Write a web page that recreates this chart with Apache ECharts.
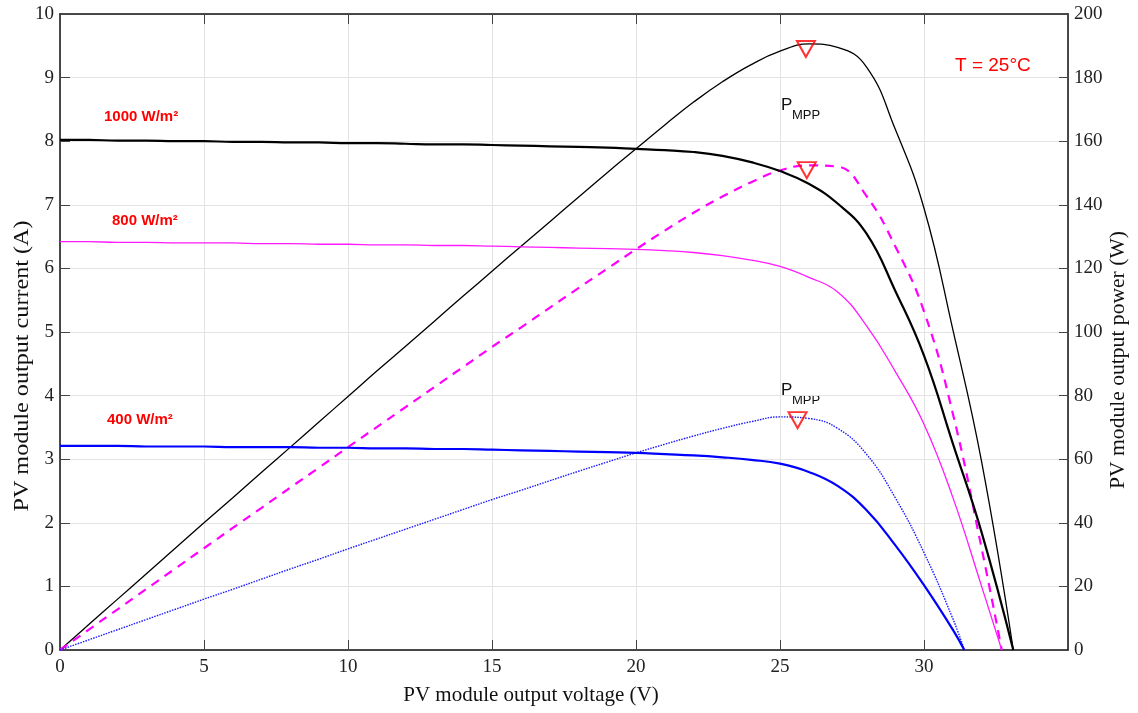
<!DOCTYPE html>
<html>
<head>
<meta charset="utf-8">
<script src="https://cdn.jsdelivr.net/npm/echarts@6/dist/echarts.min.js"></script>
<style>html,body{margin:0;padding:0;background:#fff;}#c{width:1138px;height:713px;}</style>
</head>
<body>
<div id="c"></div>
<script>
// ---- data ----
const xTicks = [0, 5, 10, 15, 20, 25, 30];
const leftTicks = [0,1,2,3,4,5,6,7,8,9,10];
const rightTicks = [0,20,40,60,80,100,120,140,160,180,200];

const v1000 = [0,1,2,3,4,5,6,7,8,9,10,11,12,13,14,15,16,17,18,19,20,21,22,23,24,25,26,27,28,29,30,31,32,33.1];
const i1000 = [8.02,8.02,8.01,8.01,8.00,8.00,7.99,7.99,7.98,7.98,7.97,7.97,7.96,7.95,7.95,7.94,7.93,7.92,7.91,7.90,7.88,7.86,7.83,7.77,7.67,7.53,7.33,7.02,6.55,5.65,4.63,3.25,1.85,0];
const p1000 = [0,8.0,16.0,24.0,32.0,40.0,47.9,55.9,63.8,71.8,79.7,87.7,95.5,103.4,111.3,119.1,126.9,134.6,142.4,150.1,157.6,165.1,172.3,178.7,184.1,188.3,190.6,189.5,183.4,163.8,138.9,100.8,59.2,0];

const v800 = [0,1,2,3,4,5,6,7,8,9,10,11,12,13,14,15,16,17,18,19,20,21,22,23,24,25,26,27,28,29,30,31,32,32.7];
const i800 = [6.42,6.42,6.41,6.41,6.40,6.40,6.40,6.39,6.39,6.38,6.38,6.37,6.37,6.36,6.36,6.35,6.34,6.33,6.32,6.31,6.30,6.28,6.25,6.20,6.13,6.03,5.86,5.63,5.10,4.38,3.55,2.40,1.00,0];
const p800 = [0,6.4,12.8,19.2,25.6,32.0,38.4,44.7,51.1,57.4,63.8,70.1,76.4,82.7,89.0,95.3,101.4,107.6,113.8,119.9,126.0,131.9,137.5,142.6,147.1,150.8,152.4,152.0,142.8,127.0,106.5,74.4,32.0,0];

const v400 = [0,1,2,3,4,5,6,7,8,9,10,11,12,13,14,15,16,17,18,19,20,21,22,23,24,25,26,27,28,29,30,31,31.4];
const i400 = [3.21,3.21,3.21,3.20,3.20,3.20,3.19,3.19,3.19,3.18,3.18,3.17,3.17,3.16,3.16,3.15,3.14,3.13,3.12,3.11,3.10,3.08,3.06,3.03,2.99,2.93,2.80,2.58,2.20,1.65,1.02,0.32,0];
const p400 = [0,3.2,6.4,9.6,12.8,16.0,19.1,22.3,25.5,28.6,31.8,34.9,38.0,41.1,44.2,47.3,50.2,53.2,56.2,59.1,62.0,64.7,67.3,69.7,71.8,73.3,72.8,69.7,61.6,47.9,30.6,9.9,0];

const mppV = [25.9, 25.93, 25.61];
const mppP = [189, 150.9, 72.3];

const irrLabels = ['1000 W/m²', '800 W/m²', '400 W/m²'];
const tempLabel = 'T = 25°C';
const axisNames = ['PV module output voltage (V)', 'PV module output current (A)', 'PV module output power (W)'];

// ---- chart ----
const zip = (a, b) => a.map((x, k) => [x, b[k]]);
const chart = echarts.init(document.getElementById('c'), null, {renderer: 'canvas'});
const serif = 'Liberation Serif';
const gridColor = '#e3e3e3';

function line(data, yIdx, color, width, type) {
  return {
    type: 'line', data: data, yAxisIndex: yIdx, xAxisIndex: 0,
    symbol: 'none', smooth: 0.45,
    lineStyle: {color: color, width: width, type: type || 'solid'},
    z: 3, silent: true
  };
}

chart.setOption({
  animation: false,
  backgroundColor: '#fff',
  grid: {left: 60, right: 70, top: 14, bottom: 63, containLabel: false, outerBoundsMode: 'none'},
  xAxis: [{
    type: 'value', min: 0, max: 35, interval: 5, position: 'bottom',
    axisLine: {show: true, onZero: false, lineStyle: {color: '#111', width: 1.5}},
    axisTick: {show: true, inside: true, length: 10, lineStyle: {color: '#444'}},
    axisLabel: {fontFamily: serif, fontSize: 19, color: '#222', margin: 8,
      formatter: v => xTicks.indexOf(v) >= 0 ? String(v) : ''},
    splitLine: {show: true, lineStyle: {color: gridColor, width: 1}}
  }, {
    type: 'value', min: 0, max: 35, interval: 5, position: 'top',
    axisLine: {show: true, onZero: false, lineStyle: {color: '#111', width: 1.5}},
    axisTick: {show: true, inside: true, length: 10, lineStyle: {color: '#444'}},
    axisLabel: {show: false}, splitLine: {show: false}
  }],
  yAxis: [{
    type: 'value', min: 0, max: 10, interval: 1, position: 'left',
    axisLine: {show: true, onZero: false, lineStyle: {color: '#111', width: 1.5}},
    axisTick: {show: true, inside: true, length: 10, lineStyle: {color: '#444'}},
    axisLabel: {fontFamily: serif, fontSize: 19, color: '#222', margin: 6,
      formatter: v => leftTicks.indexOf(v) >= 0 ? String(v) : ''},
    splitLine: {show: true, lineStyle: {color: gridColor, width: 1}}
  }, {
    type: 'value', min: 0, max: 200, interval: 20, position: 'right',
    axisLine: {show: true, onZero: false, lineStyle: {color: '#111', width: 1.5}},
    axisTick: {show: true, inside: true, length: 9, lineStyle: {color: '#444'}},
    axisLabel: {fontFamily: serif, fontSize: 19, color: '#222', margin: 6,
      formatter: v => rightTicks.indexOf(v) >= 0 ? String(v) : ''},
    splitLine: {show: false}
  }],
  series: [
    line(zip(v1000, p1000), 1, '#000', 1.3),
    line(zip(v800, p800), 1, '#ff00ff', 2.2, [9, 7]),
    line(zip(v400, p400), 1, '#1a1aff', 1.4, [1.5, 1.2]),
    line(zip(v1000, i1000), 0, '#000', 2.2),
    line(zip(v800, i800), 0, '#ff1aff', 1.3),
    line(zip(v400, i400), 0, '#0000ff', 2.2),
    {
      type: 'scatter', yAxisIndex: 1, data: zip(mppV, mppP),
      symbol: 'triangle', symbolRotate: 180, symbolSize: [18, 16],
      itemStyle: {color: 'rgba(0,0,0,0)', borderColor: '#ff0000', borderWidth: 2},
      z: 5, silent: true
    }
  ],
  graphic: [
    {type: 'text', x: 531, y: 695, style: {text: axisNames[0], fill: '#111', font: '21px "Liberation Serif"', align: 'center', verticalAlign: 'middle'}},
    {type: 'text', x: 22, y: 366, rotation: Math.PI / 2, scaleX: 1.15,
      style: {text: axisNames[1], fill: '#111', font: '21px "Liberation Serif"', align: 'center', verticalAlign: 'middle'}},
    {type: 'text', x: 1119, y: 360, rotation: Math.PI / 2, scaleX: 1.08,
      style: {text: axisNames[2], fill: '#111', font: '20px "Liberation Serif"', align: 'center', verticalAlign: 'middle'}},
    {type: 'text', left: 104, top: 109, style: {text: irrLabels[0], fill: '#ff0000', font: 'bold 15px "Liberation Sans"'}},
    {type: 'text', left: 112, top: 213, style: {text: irrLabels[1], fill: '#ff0000', font: 'bold 15px "Liberation Sans"'}},
    {type: 'text', left: 107, top: 412, style: {text: irrLabels[2], fill: '#ff0000', font: 'bold 15px "Liberation Sans"'}},
    {type: 'text', left: 955, top: 56, style: {text: tempLabel, fill: '#ff0000', font: '19px "Liberation Sans"'}},
    {type: 'text', left: 781, top: 97, style: {text: 'P', fill: '#111', font: '17px "Liberation Sans"'}},
    {type: 'text', left: 792, top: 109, style: {text: 'MPP', fill: '#111', font: '13px "Liberation Sans"'}},
    {type: 'text', left: 781, top: 382, style: {text: 'P', fill: '#111', font: '17px "Liberation Sans"'}},
    {type: 'text', left: 792, top: 394, style: {text: 'MPP', fill: '#111', font: '13px "Liberation Sans"'}}
  ]
});
</script>
</body>
</html>
